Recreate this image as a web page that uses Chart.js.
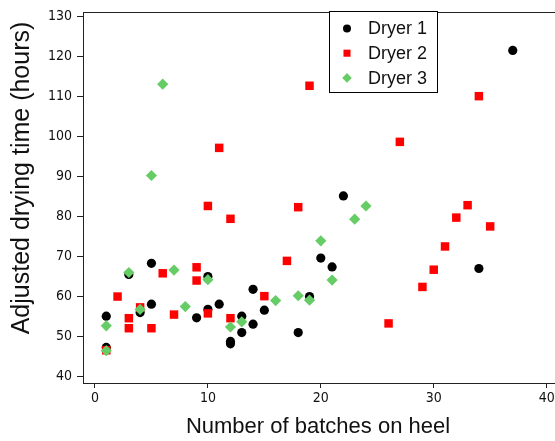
<!DOCTYPE html>
<html>
<head>
<meta charset="utf-8">
<script src="https://cdn.jsdelivr.net/npm/chart.js@4"></script>
<style>
  html, body { margin: 0; padding: 0; background: #fff; overflow: hidden; }
  #wrap { width: 555px; height: 441px; position: relative; }
</style>
</head>
<body>
<div id="wrap"><canvas id="chart" width="555" height="441"></canvas></div>
<script>
// batches on heel (x) and adjusted drying time in hours (y), one pair of arrays per dryer
const dryer1X = [1, 1, 3, 4, 5, 5, 9, 10, 10, 11, 12, 12, 13, 13, 14, 14, 15, 18, 19, 20, 21, 22, 34, 37];
const dryer1Y = [55.1, 47.3, 65.5, 56.0, 68.3, 58.1, 54.7, 65.0, 56.8, 58.1, 48.8, 48.2, 55.1, 51.0, 61.8, 53.1, 56.6, 51.0, 60.0, 69.6, 67.4, 85.1, 67.0, 121.4];

const dryer2X = [1, 2, 3, 3, 4, 5, 6, 7, 9, 9, 10, 10, 11, 12, 12, 15, 17, 18, 19, 26, 27, 29, 30, 31, 32, 33, 34, 35];
const dryer2Y = [46.6, 60.0, 54.6, 52.1, 57.3, 52.1, 65.8, 55.5, 67.3, 64.0, 82.6, 55.8, 97.1, 79.4, 54.6, 60.1, 68.9, 82.3, 112.6, 53.3, 98.6, 62.4, 66.7, 72.5, 79.7, 82.8, 110.0, 77.5];

const dryer3X = [1, 1, 3, 4, 5, 6, 7, 8, 10, 12, 13, 16, 18, 19, 20, 21, 23, 24];
const dryer3Y = [52.7, 46.5, 66.0, 56.8, 90.2, 113.0, 66.6, 57.5, 64.2, 52.4, 53.7, 59.0, 60.2, 59.1, 73.9, 64.1, 79.3, 82.6];

const seriesNames = ["Dryer 1", "Dryer 2", "Dryer 3"];
const xTicks = [0, 10, 20, 30, 40];
const yTicks = [40, 50, 60, 70, 80, 90, 100, 110, 120, 130];

const xTitle = "Number of batches on heel";
const yTitle = "Adjusted drying time (hours)";

function toPoints(xs, ys) {
    return xs.map((x, i) => ({ x: x, y: ys[i] }));
}

const styles = [
    { color: "#000000", pointStyle: "circle", radius: 4.6 },
    { color: "#ff0000", pointStyle: "rect", radius: 6 },
    { color: "#66cc66", pointStyle: "rectRot", radius: 5.6 }
];

const datasets = [dryer1X, dryer2X, dryer3X].map((xs, i) => ({
    label: seriesNames[i],
    data: toPoints(xs, [dryer1Y, dryer2Y, dryer3Y][i]),
    backgroundColor: styles[i].color,
    borderColor: styles[i].color,
    borderWidth: 0,
    pointStyle: styles[i].pointStyle,
    pointRadius: styles[i].radius,
    pointHoverRadius: styles[i].radius,
    order: 3 - i
}));

const tickFont = { family: "'DejaVu Sans Condensed', 'DejaVu Sans', sans-serif", size: 14 };

// top frame line, axis titles and the legend box
const decorations = {
    id: "decorations",
    afterDraw(chart) {
        const ctx = chart.ctx;
        const area = chart.chartArea;
        ctx.save();
        ctx.strokeStyle = "#222";
        ctx.lineWidth = 1;
        ctx.beginPath();
        ctx.moveTo(area.left, area.top + 0.5);
        ctx.lineTo(chart.width, area.top + 0.5);
        ctx.stroke();

        ctx.fillStyle = "#111";
        ctx.textAlign = "center";
        ctx.textBaseline = "alphabetic";
        ctx.font = "22px 'Liberation Sans', Arial, sans-serif";
        ctx.fillText(xTitle, 318, 433);

        ctx.save();
        ctx.translate(29, 178);
        ctx.rotate(-Math.PI / 2);
        ctx.font = "25px 'Liberation Sans', Arial, sans-serif";
        ctx.fillText(yTitle, 0, 0);
        ctx.restore();

        // legend
        const box = { left: 329.5, top: 11.5, right: 437.5, bottom: 92.5 };
        ctx.fillStyle = "#fff";
        ctx.fillRect(box.left, box.top, box.right - box.left, box.bottom - box.top);
        ctx.strokeStyle = "#000";
        ctx.strokeRect(box.left, box.top, box.right - box.left, box.bottom - box.top);
        ctx.font = "18px 'Liberation Sans', Arial, sans-serif";
        ctx.textAlign = "left";
        ctx.textBaseline = "middle";
        const legendSizes = [4, 5, 4.8];
        seriesNames.forEach((name, i) => {
            const y = 28.5 + i * 24.7;
            ctx.fillStyle = styles[i].color;
            Chart.helpers.drawPoint(ctx, {
                pointStyle: styles[i].pointStyle,
                radius: legendSizes[i],
                borderWidth: 0
            }, 347, y);
            ctx.fillStyle = "#111";
            ctx.fillText(name, 368, y + 1);
        });
        ctx.restore();
    }
};

new Chart(document.getElementById("chart"), {
    type: "scatter",
    data: { datasets: datasets },
    options: {
        responsive: false,
        animation: false,
        events: [],
        layout: { autoPadding: false, padding: { top: 12, right: 0, left: 0, bottom: 0 } },
        plugins: {
            legend: { display: false },
            tooltip: { enabled: false }
        },
        scales: {
            x: {
                type: "linear",
                min: -1.06,
                max: 40.74,
                afterFit(scale) {
                    scale.height = 58;
                    scale.paddingRight = 0;
                    scale.paddingLeft = 0;
                },
                afterBuildTicks(scale) { scale.ticks = xTicks.map(v => ({ value: v })); },
                grid: {
                    drawOnChartArea: false,
                    drawTicks: true,
                    tickLength: 5,
                    tickColor: "#222"
                },
                border: { color: "#222", width: 1 },
                ticks: {
                    font: tickFont,
                    color: "#111",
                    padding: 2,
                    maxRotation: 0
                }
            },
            y: {
                type: "linear",
                min: 38.43,
                max: 131.0,
                afterFit(scale) {
                    scale.width = 83;
                    scale.paddingTop = 0;
                    scale.paddingBottom = 0;
                },
                afterBuildTicks(scale) { scale.ticks = yTicks.map(v => ({ value: v })); },
                grid: {
                    drawOnChartArea: false,
                    drawTicks: true,
                    tickLength: 6,
                    tickColor: "#222"
                },
                border: { color: "#222", width: 1 },
                ticks: {
                    font: tickFont,
                    color: "#111",
                    padding: 5
                }
            }
        }
    },
    plugins: [decorations]
});
</script>
</body>
</html>
